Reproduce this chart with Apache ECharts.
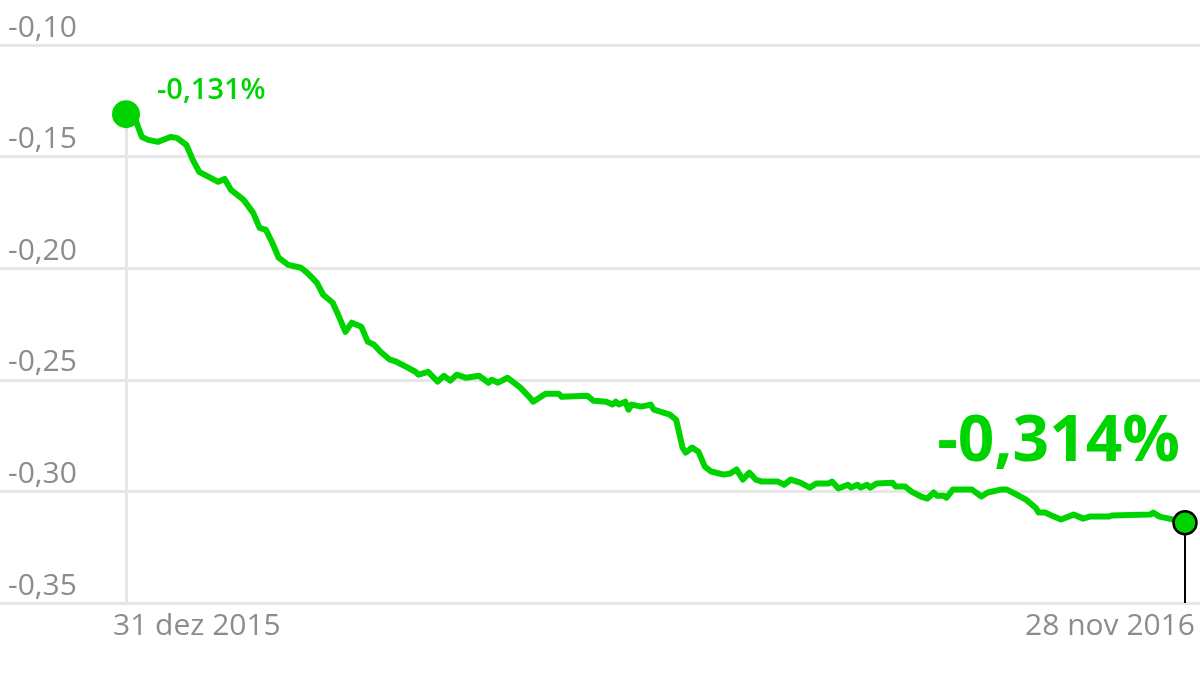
<!DOCTYPE html>
<html>
<head>
<meta charset="utf-8">
<script src="https://cdn.jsdelivr.net/npm/echarts@6/dist/echarts.min.js"></script>
<style>
  html, body { margin: 0; padding: 0; background: #fff; }
  #chart { width: 1200px; height: 675px; }
</style>
</head>
<body>
<div id="chart"></div>
<script>
// datas (dias)
var dates = [
  '2015-12-31', '2016-01-03', '2016-01-05', '2016-01-07', '2016-01-10', '2016-01-14', '2016-01-16',
  '2016-01-19', '2016-01-21', '2016-01-23', '2016-01-26', '2016-01-29', '2016-01-31', '2016-02-02',
  '2016-02-06', '2016-02-09', '2016-02-11', '2016-02-13', '2016-02-15', '2016-02-17', '2016-02-20',
  '2016-02-24', '2016-02-26', '2016-02-29', '2016-03-02', '2016-03-05', '2016-03-07', '2016-03-09',
  '2016-03-11', '2016-03-14', '2016-03-16', '2016-03-18', '2016-03-20', '2016-03-23', '2016-03-25',
  '2016-03-28', '2016-03-31', '2016-04-01', '2016-04-04', '2016-04-07', '2016-04-09', '2016-04-11',
  '2016-04-13', '2016-04-16', '2016-04-20', '2016-04-23', '2016-04-24', '2016-04-26', '2016-04-29',
  '2016-05-03', '2016-05-06', '2016-05-07', '2016-05-11', '2016-05-15', '2016-05-16', '2016-05-24',
  '2016-05-26', '2016-05-30', '2016-06-01', '2016-06-02', '2016-06-03', '2016-06-05', '2016-06-06',
  '2016-06-07', '2016-06-10', '2016-06-13', '2016-06-14', '2016-06-17', '2016-06-19', '2016-06-21',
  '2016-06-23', '2016-06-24', '2016-06-26', '2016-06-28', '2016-06-30', '2016-07-02', '2016-07-06',
  '2016-07-08', '2016-07-10', '2016-07-12', '2016-07-14', '2016-07-16', '2016-07-18', '2016-07-23',
  '2016-07-25', '2016-07-27', '2016-07-30', '2016-08-02', '2016-08-04', '2016-08-08', '2016-08-09',
  '2016-08-11', '2016-08-14', '2016-08-15', '2016-08-17', '2016-08-18', '2016-08-20', '2016-08-21',
  '2016-08-23', '2016-08-28', '2016-08-29', '2016-09-01', '2016-09-03', '2016-09-06', '2016-09-08',
  '2016-09-10', '2016-09-11', '2016-09-13', '2016-09-14', '2016-09-16', '2016-09-22', '2016-09-25',
  '2016-09-27', '2016-10-01', '2016-10-03', '2016-10-06', '2016-10-09', '2016-10-12', '2016-10-13',
  '2016-10-15', '2016-10-17', '2016-10-20', '2016-10-24', '2016-10-27', '2016-10-29', '2016-11-04',
  '2016-11-05', '2016-11-17', '2016-11-18', '2016-11-20', '2016-11-23', '2016-11-28'
]
// taxa (%)
var rates = [
  -0.131, -0.1336, -0.1412, -0.1425, -0.1434, -0.1412, -0.1416,
  -0.1448, -0.1515, -0.1568, -0.1591, -0.1613, -0.1600, -0.1649,
  -0.1694, -0.1752, -0.1819, -0.1828, -0.1886, -0.1953, -0.1985,
  -0.1998, -0.2021, -0.2065, -0.2119, -0.2155, -0.2218, -0.2285,
  -0.2244, -0.2262, -0.2329, -0.2343, -0.2374, -0.2410, -0.2419,
  -0.2441, -0.2464, -0.2477, -0.2464, -0.2508, -0.2482, -0.2504,
  -0.2477, -0.2491, -0.2482, -0.2513, -0.2500, -0.2513, -0.2491,
  -0.2535, -0.2580, -0.2598, -0.2562, -0.2562, -0.2576, -0.2571,
  -0.2594, -0.2598, -0.2611, -0.2598, -0.2611, -0.2598, -0.2634,
  -0.2611, -0.2620, -0.2611, -0.2634, -0.2647, -0.2656, -0.2679,
  -0.2804, -0.2826, -0.2804, -0.2822, -0.2889, -0.2911, -0.2925,
  -0.2920, -0.2902, -0.2947, -0.2916, -0.2947, -0.2956, -0.2956,
  -0.2970, -0.2947, -0.2961, -0.2983, -0.2965, -0.2965, -0.2956,
  -0.2987, -0.2970, -0.2983, -0.2970, -0.2983, -0.2970, -0.2983,
  -0.2965, -0.2961, -0.2978, -0.2978, -0.3001, -0.3023, -0.3032,
  -0.3005, -0.3019, -0.3019, -0.3028, -0.2992, -0.2992, -0.3023,
  -0.3005, -0.2992, -0.2992, -0.3014, -0.3037, -0.3073, -0.3095,
  -0.3095, -0.3108, -0.3126, -0.3104, -0.3122, -0.3113, -0.3113,
  -0.3108, -0.3104, -0.3095, -0.3113, -0.3122, -0.314
]
var yMin = -0.35
var yMax = -0.10
var yStep = 0.05
var months = ['jan', 'fev', 'mar', 'abr', 'mai', 'jun', 'jul', 'ago', 'set', 'out', 'nov', 'dez']

var green = '#00d400'
var grey = '#8c8c8c'
var font = '"Open Sans", "Noto Sans", sans-serif'

function toTime(s) {
  return new Date(s + 'T00:00:00').getTime()
}
function fmtNum(v, d) {
  return v.toFixed(d).replace('.', ',')
}

var times = dates.map(toTime)
var tMin = times[0]
var tMax = times[times.length - 1]
var first = [tMin, rates[0]]
var last = [tMax, rates[rates.length - 1]]

var chart = echarts.init(document.getElementById('chart'))

var option = {
  animation: false,
  backgroundColor: '#fff',
  grid: [
    // grade de fundo ocupa toda a largura
    { left: 0, right: 0, top: 45, bottom: 72 },
    { left: 126, right: 15, top: 45, bottom: 72 }
  ],
  xAxis: [
    { gridIndex: 0, type: 'value', min: 0, max: 1, show: false },
    {
      gridIndex: 1,
      type: 'value',
      min: tMin,
      max: tMax,
      axisLine: { show: false },
      axisTick: { show: false },
      splitLine: { show: false },
      axisLabel: {
        customValues: [tMin, tMax],
        alignMinLabel: 'left',
        alignMaxLabel: 'right',
        padding: [0, -10, 0, -13],
        margin: 6,
        color: grey,
        fontFamily: font,
        fontSize: 30,
        lineHeight: 34,
        formatter: function (val) {
          var d = new Date(val)
          return d.getDate() + ' ' + months[d.getMonth()] + ' ' + d.getFullYear()
        }
      }
    }
  ],
  yAxis: [
    {
      gridIndex: 0,
      type: 'value',
      min: yMin,
      max: yMax,
      interval: yStep,
      axisLine: { show: false },
      axisTick: { show: false },
      splitLine: { lineStyle: { color: '#e6e6e6', width: 3 } },
      axisLabel: {
        inside: true,
        margin: 8,
        verticalAlign: 'bottom',
        padding: [0, 0, 0, 0],
        color: grey,
        fontFamily: font,
        fontSize: 30,
        lineHeight: 34,
        formatter: function (v) { return fmtNum(v, 2) }
      }
    },
    {
      gridIndex: 1,
      type: 'value',
      min: yMin,
      max: yMax,
      interval: yStep,
      show: false
    }
  ],
  series: [
    {
      type: 'line',
      xAxisIndex: 1,
      yAxisIndex: 1,
      data: times.map(function (t, i) { return [t, rates[i]] }),
      showSymbol: false,
      lineStyle: { color: green, width: 6, join: 'round' },
      z: 3,
      markLine: {
        silent: true,
        symbol: 'none',
        label: { show: false },
        data: [
          [
            { coord: first, lineStyle: { color: '#e6e6e6', width: 3, type: 'solid' } },
            { coord: [tMin, yMin] }
          ],
          [
            { coord: last, lineStyle: { color: '#000', width: 2, type: 'solid' } },
            { coord: [tMax, yMin] }
          ]
        ]
      }
    },
    {
      type: 'scatter',
      xAxisIndex: 1,
      yAxisIndex: 1,
      z: 5,
      data: [first],
      symbolSize: 28,
      itemStyle: { color: green, opacity: 1 },
      label: {
        show: true,
        position: 'inside',
        align: 'left',
        verticalAlign: 'middle',
        offset: [31, -23],
        color: green,
        fontFamily: font,
        fontWeight: 600,
        fontSize: 29,
        formatter: function (p) { return fmtNum(p.value[1], 3) + '%' }
      }
    },
    {
      type: 'scatter',
      xAxisIndex: 1,
      yAxisIndex: 1,
      z: 5,
      data: [last],
      symbolSize: 23,
      itemStyle: { color: green, borderColor: '#000', borderWidth: 2.5, opacity: 1 },
      label: {
        show: true,
        position: 'inside',
        align: 'right',
        verticalAlign: 'middle',
        offset: [-5, -80],
        color: green,
        fontFamily: font,
        fontWeight: 'bold',
        fontSize: 64,
        formatter: function (p) { return fmtNum(p.value[1], 3) + '%' }
      }
    }
  ]
}

chart.setOption(option)
</script>
</body>
</html>
